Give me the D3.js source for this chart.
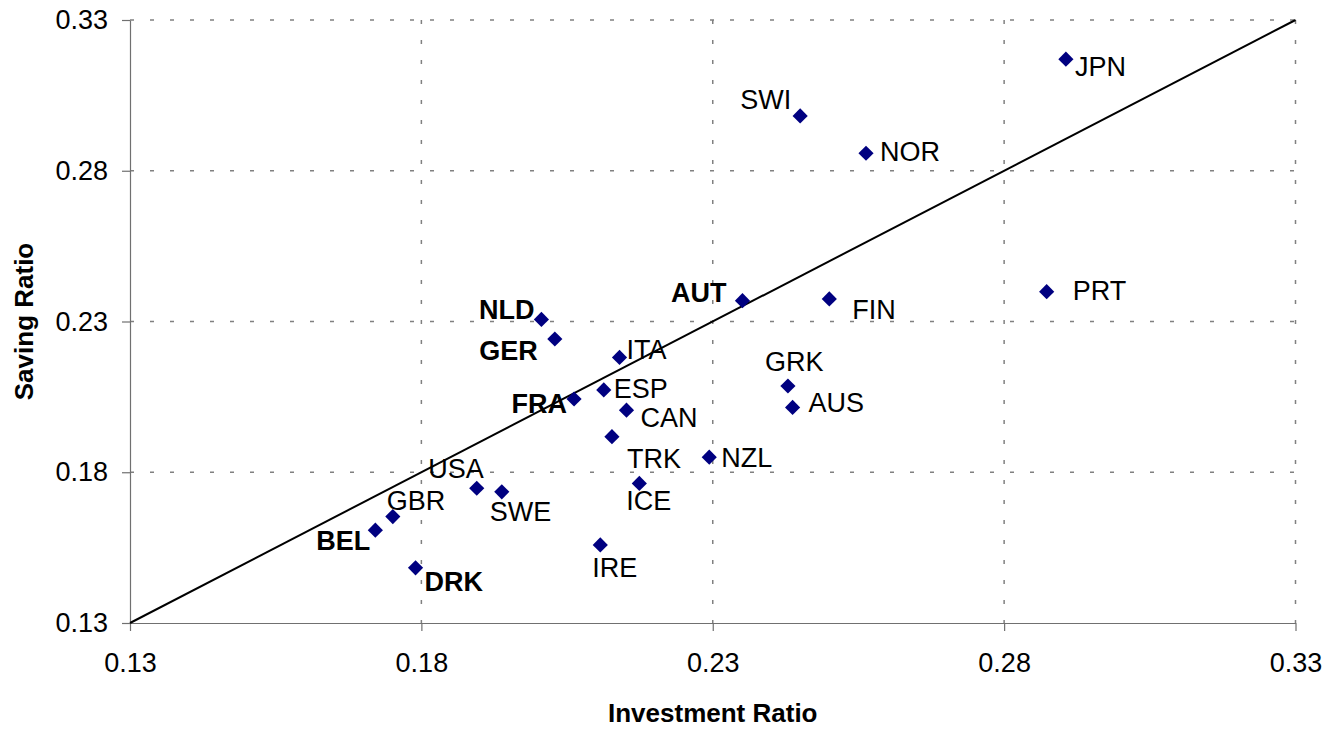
<!DOCTYPE html>
<html>
<head>
<meta charset="utf-8" />
<title>Saving vs Investment</title>
<style type="text/css">
body{
	margin:0;
	background:#fff;
	font-family:"Liberation Sans", Arial, sans-serif;
}
</style>
<script src="https://d3js.org/d3.v7.min.js"></script>
</head>
<body>
<div id="chart"></div>
<script>
	// data
	var countries = ["JPN","SWI","NOR","PRT","FIN","AUT","NLD","GER","ITA","GRK","ESP","FRA","AUS","CAN","TRK","NZL","ICE","USA","SWE","GBR","BEL","IRE","DRK"];
	var investment = [0.2906,0.2450,0.2563,0.2873,0.2500,0.2351,0.2006,0.2029,0.2140,0.2429,0.2113,0.2062,0.2437,0.2152,0.2127,0.2294,0.2174,0.1895,0.1938,0.1751,0.1721,0.2107,0.1790];
	var saving = [0.3170,0.2982,0.2858,0.2399,0.2375,0.2369,0.2307,0.2242,0.2181,0.2086,0.2073,0.2043,0.2015,0.2006,0.1918,0.1850,0.1763,0.1747,0.1735,0.1653,0.1608,0.1559,0.1483];
	var boldNames = ["AUT","NLD","GER","FRA","BEL","DRK"];
	var ticks = [0.13,0.18,0.23,0.28,0.33];

	// label placement (anchor, dx, dy) - layout only
	var labelPos = {
		JPN:["start",9,17], SWI:["end",-9,-7], NOR:["start",14,8], PRT:["start",26,8],
		FIN:["start",23,20], AUT:["end",-16,1], NLD:["end",-7,0], GER:["end",-17,21],
		ITA:["start",7,2], GRK:["start",-23,-15], ESP:["start",10,8], FRA:["end",-7,14],
		AUS:["start",16,5], CAN:["start",14,17], TRK:["start",15,31], NZL:["start",12,10],
		ICE:["start",-13,27], USA:["end",7,-10], SWE:["start",-12,29], GBR:["start",-6,-7],
		BEL:["end",-5,20], IRE:["start",-8,32], DRK:["start",9,23]
	};

	var width = 1341, height = 729;
	var plotL = 130, plotR = 1295.5, plotT = 20, plotB = 623;

	var SVG = d3.select("#chart").append("svg")
		.attr("width", width)
		.attr("height", height);

	var x = d3.scaleLinear().domain([0.13,0.33]).range([plotL,plotR]);
	var y = d3.scaleLinear().domain([0.13,0.33]).range([plotB,plotT]);

	//格線
	SVG.append("g").selectAll("line")
		.data(ticks.slice(1))
		.enter().append("line")
		.attr("x1", plotL).attr("x2", plotR)
		.attr("y1", function(d){ return y(d); })
		.attr("y2", function(d){ return y(d); })
		.attr("stroke", "#808080")
		.attr("stroke-width", 1.5)
		.attr("stroke-dasharray", "4,16");
	SVG.append("g").selectAll("line")
		.data(ticks.slice(1))
		.enter().append("line")
		.attr("y1", plotT).attr("y2", plotB)
		.attr("x1", function(d){ return x(d); })
		.attr("x2", function(d){ return x(d); })
		.attr("stroke", "#808080")
		.attr("stroke-width", 1.5)
		.attr("stroke-dasharray", "4,16");

	//座標軸
	var fmt = d3.format(".2f");
	var gx = SVG.append("g")
		.attr("transform", "translate(0," + plotB + ")")
		.call(d3.axisBottom(x).tickValues(ticks).tickFormat(fmt).tickSize(8).tickSizeOuter(0).tickPadding(22));
	var gy = SVG.append("g")
		.attr("transform", "translate(" + plotL + ",0)")
		.call(d3.axisLeft(y).tickValues(ticks).tickFormat(fmt).tickSize(8).tickSizeOuter(0).tickPadding(14));
	[gx, gy].forEach(function(g){
		g.select(".domain").attr("stroke", "#707070").attr("stroke-width", 1.2);
		g.selectAll(".tick line").attr("stroke", "#707070").attr("stroke-width", 1.2);
		g.selectAll(".tick text")
			.attr("fill", "#000")
			.style("font-family", "'Liberation Sans', Arial, sans-serif")
			.style("font-size", "27px");
	});

	//45度線
	SVG.append("line")
		.attr("x1", x(0.13)).attr("y1", y(0.13))
		.attr("x2", x(0.33)).attr("y2", y(0.33))
		.attr("stroke", "#000")
		.attr("stroke-width", 2);

	//散佈點
	var symbol = d3.symbol().type(d3.symbolSquare).size(115);
	SVG.append("g").selectAll("path")
		.data(countries)
		.enter().append("path")
		.attr("d", symbol)
		.attr("transform", function(d,i){
			return "translate(" + x(investment[i]) + "," + y(saving[i]) + ") rotate(45)";
		})
		.attr("fill", "#000080");

	//標籤
	SVG.append("g").selectAll("text")
		.data(countries)
		.enter().append("text")
		.attr("x", function(d,i){ return x(investment[i]) + labelPos[d][1]; })
		.attr("y", function(d,i){ return y(saving[i]) + labelPos[d][2]; })
		.attr("text-anchor", function(d){ return labelPos[d][0]; })
		.attr("font-size", 27)
		.attr("font-weight", function(d){ return boldNames.indexOf(d) >= 0 ? "bold" : "normal"; })
		.attr("fill", "#000")
		.text(function(d){ return d; });

	//軸標題
	SVG.append("text")
		.attr("x", (plotL+plotR)/2)
		.attr("y", 722)
		.attr("text-anchor", "middle")
		.attr("font-size", 26)
		.attr("font-weight", "bold")
		.text("Investment Ratio");
	SVG.append("text")
		.attr("transform", "translate(33," + (plotT+plotB)/2 + ") rotate(-90)")
		.attr("text-anchor", "middle")
		.attr("font-size", 26)
		.attr("font-weight", "bold")
		.text("Saving Ratio");
</script>
</body>
</html>
